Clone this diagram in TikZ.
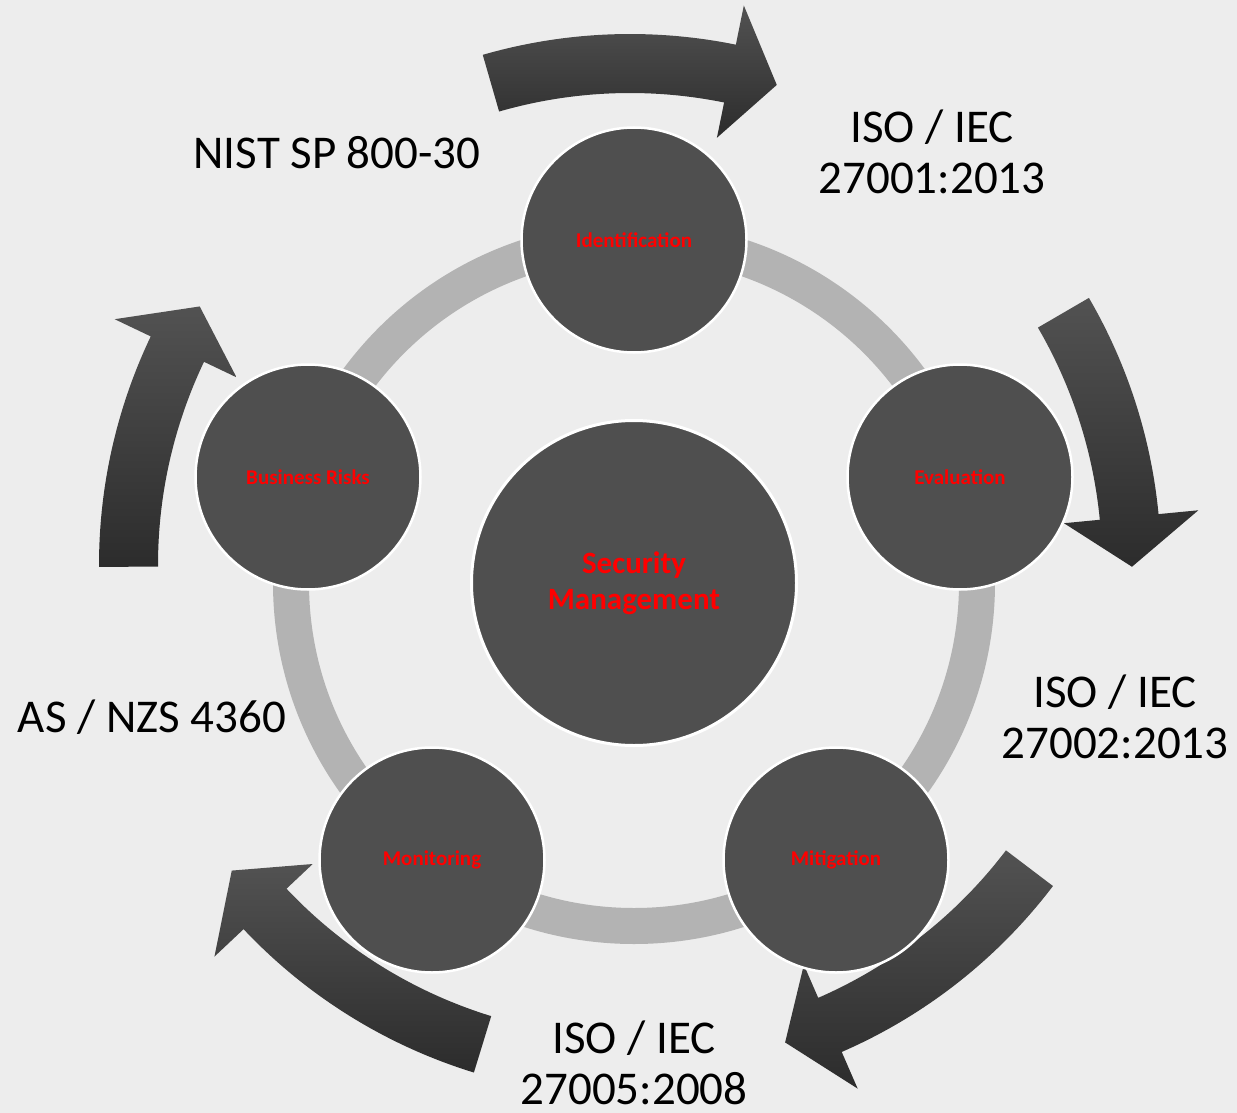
\documentclass[tikz,border=0pt]{standalone}
\usepackage{fontspec}
\setmainfont{Carlito}
\definecolor{bg}{HTML}{EDEDED}
\definecolor{ringc}{HTML}{B3B3B3}
\definecolor{nodec}{HTML}{4F4F4F}
\definecolor{arrtop}{HTML}{525252}
\definecolor{arrbot}{HTML}{2C2C2C}
\newcommand\cycarrow[3]{%
  \path[cyc] (#1:531) arc[start angle=#1, end angle=#2, radius=531]
    -- (#2:571) -- (#3:502) -- (#2:436) -- (#2:472)
    arc[start angle=#2, end angle=#1, radius=472] -- cycle;}
\begin{document}
\begin{tikzpicture}[x=1pt,y=-1pt,
  stage/.style={circle, fill=nodec, draw=white, line width=2.5pt, minimum size=225pt,
    inner sep=0pt, text=red, font=\bfseries\fontsize{21}{25}\selectfont},
  hub/.style={circle, fill=nodec, draw=white, line width=3pt, minimum size=325pt,
    inner sep=0pt, text=red, align=center, font=\bfseries\fontsize{31}{36}\selectfont},
  std/.style={align=center, font=\fontsize{47}{51}\selectfont, text=black, inner sep=0pt},
  cyc/.style={top color=arrtop, bottom color=arrbot, draw=none}]
\useasboundingbox (0,0) rectangle (1237,1113);
\fill[bg] (0,0) rectangle (1237,1113);
% curved arrows
\begin{scope}[shift={(630,565)}, y=1pt]
  \cycarrow{106.1}{78.5}{73}
  \cycarrow{30.2}{5.5}{-0.2}
  \cycarrow{-37.2}{-66.5}{-72}
  \cycarrow{-107.1}{-136.7}{-142.5}
  \cycarrow{180.2}{154.5}{149}
\end{scope}
% ring
\draw[ringc, line width=36pt] (634,583) circle[radius=343];
% nodes
\node[hub] (hub) at (634,583) {Security\\Management};
\node[stage] (ident) at (634,240) {Identification};
\node[stage] (eval) at (960,477) {Evaluation};
\node[stage] (miti) at (836,860) {Mitigation};
\node[stage] (moni) at (432,860) {Monitoring};
\node[stage] (busi) at (308,477) {Business Risks};
% standards
\node[std] (l1) at (932,152) {ISO / IEC\\27001:2013};
\node[std] (l2) at (1115,717) {ISO / IEC\\27002:2013};
\node[std] (l3) at (634,1063) {ISO / IEC\\27005:2008};
\node[std] (l4) at (152,717) {AS / NZS 4360};
\node[std] (l5) at (337,153) {NIST SP 800-30};
\end{tikzpicture}
\end{document}
